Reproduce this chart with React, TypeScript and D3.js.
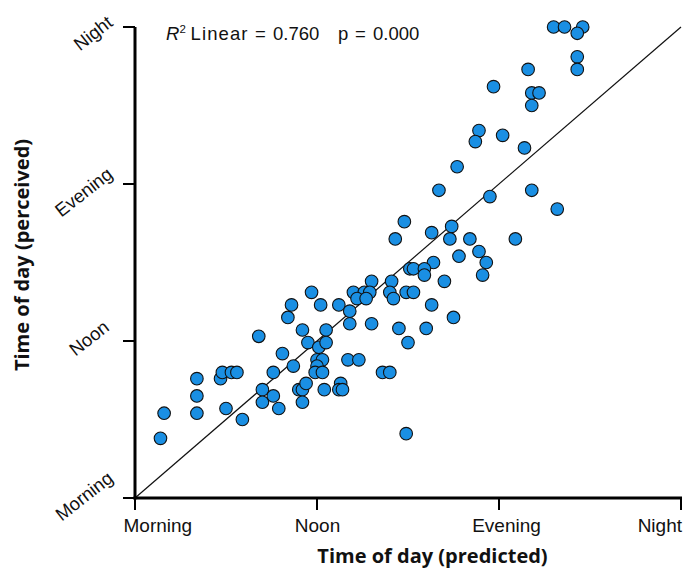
import React from "react";
import * as d3 from "d3";

const tickValues = [0, 1, 2, 3];
const tickLabels = ["Morning", "Noon", "Evening", "Night"];

const predicted = [
  0.14, 0.16, 0.34, 0.34, 0.34, 0.47, 0.48, 0.53, 0.56, 0.5,
  0.59, 0.68, 0.7, 0.7, 0.76, 0.79, 0.76, 0.81, 0.84, 0.86,
  0.87, 0.92, 0.9, 0.92, 0.94, 0.92, 0.95, 0.97, 1.02, 1.01,
  1.0, 1.03, 1.0, 0.99, 1.03, 1.04, 1.05, 1.05, 1.67, 1.95,
  1.48, 1.63, 1.74, 1.43, 1.73, 1.84, 2.09, 1.89, 1.78, 1.93,
  1.91, 1.64, 1.51, 1.53, 1.59, 1.59, 1.7, 1.3, 1.41, 1.2,
  1.26, 1.29, 1.22, 1.27, 1.4, 1.42, 1.49, 1.53, 1.12, 1.18,
  1.18, 1.3, 1.63, 1.75, 1.45, 1.6, 1.5, 1.17, 1.23, 1.36,
  1.4, 1.13, 1.12, 1.14, 1.49, 2.3, 2.36, 2.46, 2.43, 2.43,
  2.43, 2.16, 1.97, 2.18, 2.22, 2.18, 1.89, 1.87, 2.02, 2.14,
  1.77, 2.18, 2.32,
];

const perceived = [
  0.38, 0.54, 0.54, 0.65, 0.76, 0.76, 0.8, 0.8, 0.8, 0.57,
  0.5, 1.03, 0.69, 0.61, 0.65, 0.57, 0.8, 0.92, 1.15, 1.23,
  0.84, 1.07, 0.69, 0.69, 0.73, 0.61, 0.99, 1.31, 1.23, 0.96,
  0.88, 0.88, 0.84, 0.8, 0.8, 0.69, 1.07, 0.99, 1.96, 1.92,
  1.76, 1.69, 1.73, 1.65, 1.65, 1.65, 1.65, 1.57, 1.54, 1.5,
  1.42, 1.5, 1.46, 1.46, 1.46, 1.42, 1.38, 1.38, 1.38, 1.31,
  1.31, 1.31, 1.27, 1.27, 1.31, 1.27, 1.31, 1.31, 1.23, 1.19,
  1.11, 1.11, 1.23, 1.15, 1.08, 1.08, 0.99, 0.88, 0.88, 0.8,
  0.8, 0.73, 0.69, 0.69, 0.41, 3.0, 3.0, 3.0, 2.96, 2.81,
  2.73, 2.73, 2.62, 2.58, 2.58, 2.5, 2.34, 2.27, 2.31, 2.23,
  2.11, 1.96, 1.84,
];

const fitLine: [number, number][] = [
  [0, 0],
  [3, 3],
];

const rSquared = "0.760";
const pValue = "0.000";
const xTitle = "Time of day (predicted)";
const yTitle = "Time of day (perceived)";

const FONT = "'Liberation Sans', Arial, sans-serif";
const TITLE_FONT = "'Open Sans', 'DejaVu Sans', sans-serif";

export default function App() {
  const W = 687;
  const H = 570;
  const x = d3.scaleLinear().domain([0, 3]).range([135, 681]);
  const y = d3.scaleLinear().domain([0, 3]).range([498, 27]);
  const line = d3
    .line<[number, number]>()
    .x((d) => x(d[0]))
    .y((d) => y(d[1]));

  const xLabelPlacement = [
    { anchor: "start", dx: -11.5 },
    { anchor: "middle", dx: 0.5 },
    { anchor: "middle", dx: 7.5 },
    { anchor: "end", dx: 1 },
  ];
  // centre offsets of rotated y tick labels from (axis, tick)
  const yLabelPlacement = [
    { dx: -51, dy: -2 },
    { dx: -46, dy: -3 },
    { dx: -51.5, dy: 8 },
    { dx: -42, dy: 6 },
  ];

  const points = predicted.map((p, i) => [p, perceived[i]] as [number, number]);

  return (
    <div style={{ position: "absolute", left: 0, top: 0 }}>
      <svg width={W} height={H} style={{ display: "block", background: "#fff" }}>
        {/* fit line */}
        <path d={line(fitLine) || ""} stroke="#111" strokeWidth={1.2} fill="none" />

        {/* points */}
        {points.map((d, i) => (
          <circle
            key={i}
            cx={x(d[0])}
            cy={y(d[1])}
            r={6.3}
            fill="#1a8fe3"
            stroke="#111"
            strokeWidth={1.1}
          />
        ))}

        {/* y axis */}
        <line x1={x(0)} x2={x(0)} y1={y(3)} y2={y(0) + 1.5} stroke="#000" strokeWidth={3} />
        {tickValues.map((t) => (
          <line key={"yt" + t} x1={x(0) - 12} x2={x(0)} y1={y(t)} y2={y(t)} stroke="#000" strokeWidth={2} />
        ))}
        {tickValues.map((t, i) => (
          <text
            key={"yl" + t}
            transform={`translate(${x(0) + yLabelPlacement[i].dx},${y(t) + yLabelPlacement[i].dy}) rotate(-38)`}
            textAnchor="middle"
            dy="0.35em"
            fontFamily={FONT}
            fontSize={18.5}
            fill="#111"
          >
            {tickLabels[i]}
          </text>
        ))}

        {/* x axis */}
        <line x1={x(0) - 1.5} x2={x(3) + 1} y1={y(0)} y2={y(0)} stroke="#000" strokeWidth={3} />
        {tickValues.map((t) => (
          <line key={"xt" + t} x1={x(t)} x2={x(t)} y1={y(0)} y2={y(0) + 12} stroke="#000" strokeWidth={2} />
        ))}
        {tickValues.map((t, i) => (
          <text
            key={"xl" + t}
            x={x(t) + xLabelPlacement[i].dx}
            y={y(0) + 34}
            textAnchor={xLabelPlacement[i].anchor as any}
            fontFamily={FONT}
            fontSize={19}
            fill="#111"
          >
            {tickLabels[i]}
          </text>
        ))}

        {/* annotation */}
        <text y={40} fontFamily={FONT} fontSize={18.5} fill="#111">
          <tspan x={166} fontStyle="italic">R</tspan>
          <tspan fontSize={11.5} dy={-7.5}>2</tspan>
          <tspan x={190.5} dy={7.5} textLength={57}>Linear</tspan>
          <tspan x={255}>=</tspan>
          <tspan x={273}>{rSquared}</tspan>
          <tspan x={338}>p</tspan>
          <tspan x={355}>=</tspan>
          <tspan x={373}>{pValue}</tspan>
        </text>

        {/* axis titles */}
        <text
          x={432.5}
          y={563}
          textAnchor="middle"
          fontFamily={TITLE_FONT}
          fontWeight="bold"
          fontSize={20}
          fill="#111"
        >
          {xTitle}
        </text>
        <text
          transform={`translate(29,255) rotate(-90)`}
          textAnchor="middle"
          fontFamily={TITLE_FONT}
          fontWeight="bold"
          fontSize={20}
          fill="#111"
        >
          {yTitle}
        </text>
      </svg>
    </div>
  );
}
